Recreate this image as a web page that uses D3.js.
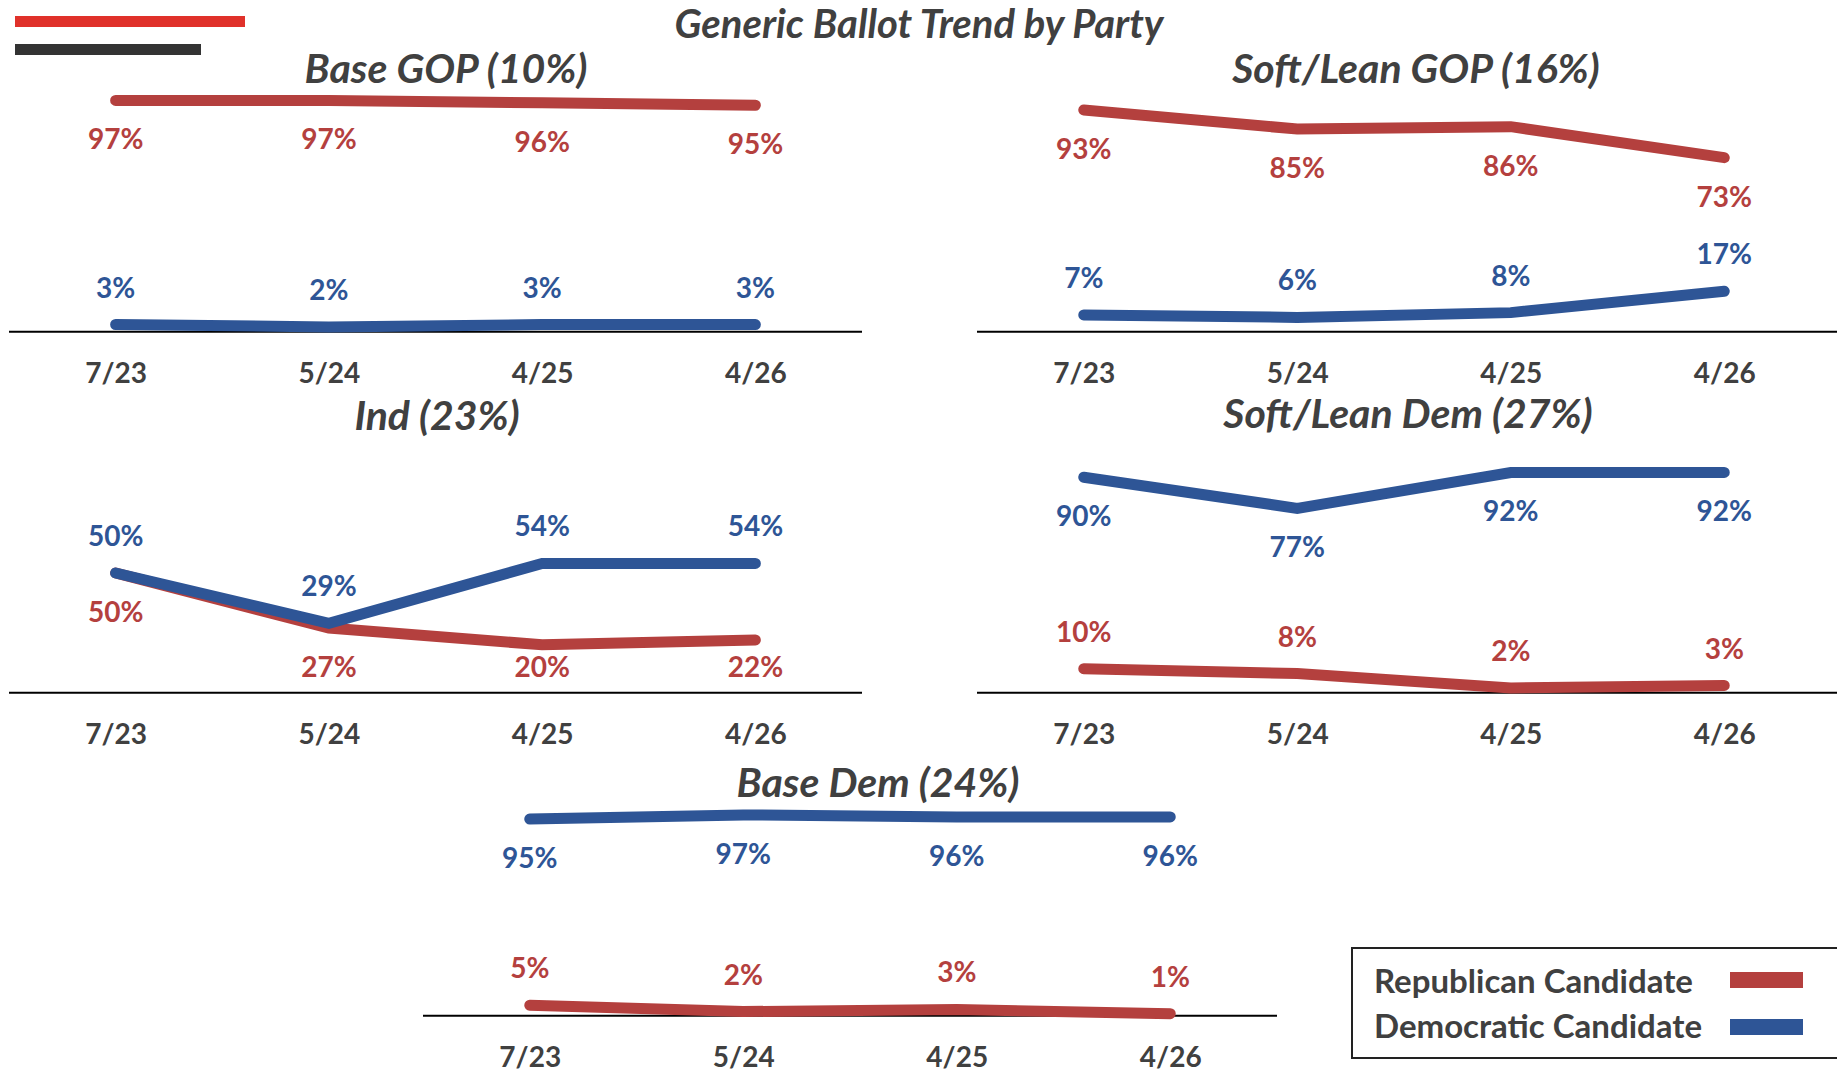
<!DOCTYPE html>
<html>
<head>
<meta charset="utf-8">
<script src="https://cdn.jsdelivr.net/npm/d3@7"></script>
<style>
  html, body { margin: 0; padding: 0; background: #fff; }
  svg { display: block; font-family: Lato, 'Open Sans', sans-serif; }
</style>
</head>
<body>
<div id="chart"></div>
<script>
// data
var categories = ['7/23', '5/24', '4/25', '4/26'];
var panelTitles = ['Base GOP (10%)', 'Soft/Lean GOP (16%)', 'Ind (23%)', 'Soft/Lean Dem (27%)', 'Base Dem (24%)'];
var republican = [
    [97, 97, 96, 95],
    [93, 85, 86, 73],
    [50, 27, 20, 22],
    [10, 8, 2, 3],
    [5, 2, 3, 1]
];
var democratic = [
    [3, 2, 3, 3],
    [7, 6, 8, 17],
    [50, 29, 54, 54],
    [90, 77, 92, 92],
    [95, 97, 96, 96]
];
var seriesNames = ['Republican Candidate', 'Democratic Candidate'];
var mainTitle = 'Generic Ballot Trend by Party';

var width = 1837, height = 1073;
var colors = { rep: '#b4403e', dem: '#2e5596', text: '#404040' };

// layout of each small chart: point-scale range, axis line end, y of 0% and 100%, title spot,
// and where each series puts its labels
var panels = [
    { x0: 9,   x1: 862,  lineEnd: 862,  y0: 331.7,  y100: 93.3,  tx: 446,  ty: 83,  rep: 'below', dem: 'above' },
    { x0: 977, x1: 1831, lineEnd: 1837, y0: 331.7,  y100: 93.3,  tx: 1416, ty: 83,  rep: 'below', dem: 'above' },
    { x0: 9,   x1: 862,  lineEnd: 862,  y0: 692.7,  y100: 453.3, tx: 437,  ty: 430, rep: 'below', dem: 'above' },
    { x0: 977, x1: 1831, lineEnd: 1837, y0: 692.7,  y100: 453.3, tx: 1408, ty: 428, rep: 'above', dem: 'below' },
    { x0: 423, x1: 1277, lineEnd: 1277, y0: 1015.7, y100: 808.7, tx: 878,  ty: 797, rep: 'above', dem: 'below' }
];

var svg = d3.select('#chart').append('svg')
    .attr('width', width)
    .attr('height', height);

// decorative bars top-left
svg.append('rect').attr('x', 15).attr('y', 16).attr('width', 230).attr('height', 11).attr('fill', '#e0312a');
svg.append('rect').attr('x', 15).attr('y', 44).attr('width', 186).attr('height', 11).attr('fill', '#333');

svg.append('text')
    .attr('x', 919).attr('y', 38)
    .attr('text-anchor', 'middle')
    .attr('font-size', 40)
    .attr('font-weight', 700)
    .attr('font-style', 'italic')
    .attr('fill', colors.text)
    .text(mainTitle);

panels.forEach(function (p, i) {
    var x = d3.scalePoint().domain(categories).range([p.x0, p.x1]).padding(0.5);
    var y = d3.scaleLinear().domain([0, 100]).range([p.y0, p.y100]);

    var g = svg.append('g');

    g.append('text')
        .attr('x', p.tx).attr('y', p.ty)
        .attr('text-anchor', 'middle')
        .attr('font-size', 41)
        .attr('font-weight', 700)
        .attr('font-style', 'italic')
        .attr('fill', colors.text)
        .text(panelTitles[i]);

    // category axis
    var axis = g.append('g')
        .attr('transform', 'translate(0,' + p.y0 + ')')
        .call(d3.axisBottom(x).tickSize(0).tickPadding(31));
    axis.select('.domain').remove();
    axis.selectAll('text')
        .attr('font-family', 'Lato, sans-serif')
        .attr('font-size', 28)
        .attr('font-weight', 700)
        .attr('fill', colors.text);

    g.append('line')
        .attr('x1', p.x0).attr('x2', p.lineEnd)
        .attr('y1', p.y0).attr('y2', p.y0)
        .attr('stroke', '#000')
        .attr('stroke-width', 2);

    var line = d3.line()
        .x(function (d, j) { return x(categories[j]); })
        .y(function (d) { return y(d); });

    var series = [
        { values: republican[i], color: colors.rep, pos: p.rep },
        { values: democratic[i], color: colors.dem, pos: p.dem }
    ];

    series.forEach(function (s) {
        g.append('path')
            .datum(s.values)
            .attr('d', line)
            .attr('fill', 'none')
            .attr('stroke', s.color)
            .attr('stroke-width', 11)
            .attr('stroke-linecap', 'round');
    });

    series.forEach(function (s) {
        g.selectAll(null)
            .data(s.values)
            .enter().append('text')
            .attr('x', function (d, j) { return x(categories[j]); })
            .attr('y', function (d) {
                // labels under a line stay clear of the axis
                return s.pos === 'below' ? Math.min(y(d) + 49, p.y0 - 16) : y(d) - 27;
            })
            .attr('text-anchor', 'middle')
            .attr('font-size', 28)
            .attr('font-weight', 700)
            .attr('fill', s.color)
            .text(function (d) { return d + '%'; });
    });
});

// legend
var legend = svg.append('g');
legend.append('rect')
    .attr('x', 1352).attr('y', 948)
    .attr('width', 520).attr('height', 110)
    .attr('fill', 'none')
    .attr('stroke', '#222')
    .attr('stroke-width', 2);

var legendColors = [colors.rep, colors.dem];
seriesNames.forEach(function (name, k) {
    legend.append('text')
        .attr('x', 1374).attr('y', 993 + k * 45)
        .attr('font-size', 33)
        .attr('font-weight', 700)
        .attr('fill', colors.text)
        .text(name);
    legend.append('rect')
        .attr('x', 1730).attr('y', 972 + k * 47)
        .attr('width', 73).attr('height', 16)
        .attr('fill', legendColors[k]);
});
</script>
</body>
</html>
